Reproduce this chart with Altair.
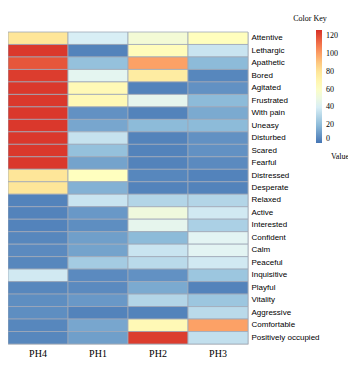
import altair as alt
import pandas as pd

rows = ["Attentive", "Lethargic", "Apathetic", "Bored", "Agitated", "Frustrated",
        "With pain", "Uneasy", "Disturbed", "Scared", "Fearful", "Distressed",
        "Desperate", "Relaxed", "Active", "Interested", "Confident", "Calm",
        "Peaceful", "Inquisitive", "Playful", "Vitality", "Aggressive",
        "Comfortable", "Positively occupied"]
cols = ["PH4", "PH1", "PH2", "PH3"]

ph4 = [80, 125, 118, 124, 125, 125, 125, 125, 125, 125, 125, 80, 80,
       4, 4, 4, 5, 6, 5, 38, 5, 7, 7, 5, 5]
ph1 = [40, 4, 22, 45, 67, 67, 8, 14, 35, 22, 13, 63, 17,
       36, 10, 7, 12, 13, 26, 6, 6, 10, 4, 14, 12]
ph2 = [55, 65, 100, 76, 4, 46, 4, 20, 4, 4, 4, 5, 4,
       30, 52, 46, 20, 36, 32, 8, 15, 30, 4, 67, 124]
ph3 = [64, 36, 20, 5, 8, 20, 15, 20, 8, 8, 6, 4, 4,
       30, 38, 28, 44, 44, 38, 24, 4, 24, 32, 100, 34]

legend_values = [0, 20, 40, 60, 80, 100, 120]

records = []
for c, vals in zip(cols, [ph4, ph1, ph2, ph3]):
    for r, v in zip(rows, vals):
        records.append({"row": r, "col": c, "value": v})
df = pd.DataFrame(records)

heat = alt.Chart(df).mark_rect(stroke="#a0a8b8", strokeWidth=0.8).encode(
    x=alt.X("col:N", sort=cols, scale=alt.Scale(paddingInner=0, paddingOuter=0),
            axis=alt.Axis(orient="bottom", title=None, ticks=False, domain=False,
                          labelAngle=0, labelFont="Liberation Serif",
                          labelFontSize=10, labelPadding=4, labelColor="#000")),
    y=alt.Y("row:N", sort=rows, scale=alt.Scale(paddingInner=0, paddingOuter=0),
            axis=alt.Axis(orient="right", title=None, ticks=False, domain=False,
                          labelFont="Liberation Sans", labelFontSize=8,
                          labelPadding=3, labelColor="#000")),
    color=alt.Color("value:Q",
                    scale=alt.Scale(domain=[0, 21, 42, 63, 84, 105, 127],
                                    range=["#4575b4", "#91bfdb", "#e0f3f8", "#ffffbf",
                                           "#fee090", "#fc8d59", "#d73027"],
                                    interpolate="rgb"),
                    legend=alt.Legend(orient="none", legendX=308, legendY=-2,
                                      direction="vertical", title=None,
                                      gradientLength=113, gradientThickness=6,
                                      gradientStrokeWidth=0,
                                      values=legend_values,
                                      labelFont="Liberation Serif", labelFontSize=8,
                                      labelOffset=4, labelColor="#000", padding=0)),
)

key_title = alt.Chart(pd.DataFrame({"t": ["Color Key"]})).mark_text(
    font="Liberation Serif", fontSize=8, color="#000", align="center", baseline="middle"
).encode(text="t:N", x=alt.value(302), y=alt.value(-13))

val_title = alt.Chart(pd.DataFrame({"t": ["Value"]})).mark_text(
    font="Liberation Serif", fontSize=8, color="#000", align="center", baseline="middle"
).encode(text="t:N", x=alt.value(332), y=alt.value(125))

chart = alt.layer(heat, key_title, val_title).properties(
    width=240, height=312,
    autosize=alt.AutoSizeParams(type="none"),
    padding={"left": 0, "top": 24, "right": 100, "bottom": 13},
).configure_view(stroke=None).configure(background="white")

chart.save("out.html", embed_options={"renderer": "svg", "actions": False})
